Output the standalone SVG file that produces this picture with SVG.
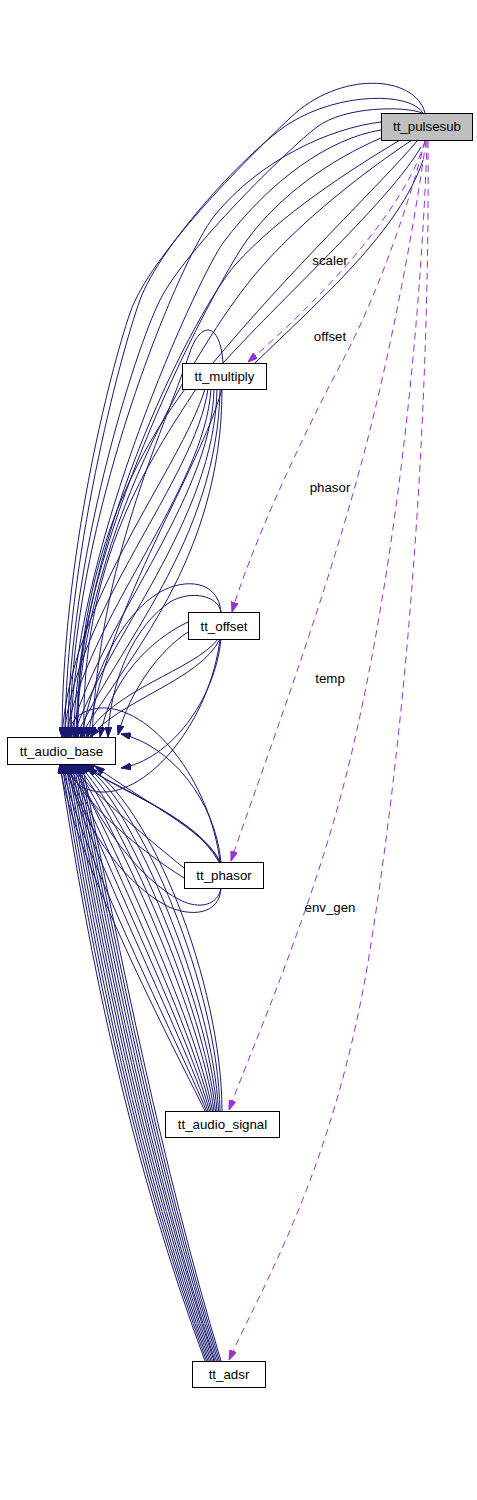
<svg xmlns="http://www.w3.org/2000/svg" width="477" height="1500" viewBox="0 0 477 1500">
<defs>
<marker id="ab" viewBox="0 0 10 7" refX="10" refY="3.5" markerWidth="10" markerHeight="7" markerUnits="userSpaceOnUse" orient="auto"><path d="M0,0L10,3.5L0,7z" fill="#191970" stroke="#191970" stroke-width="1"/></marker>
<marker id="ap" viewBox="0 0 10 7" refX="10" refY="3.5" markerWidth="10" markerHeight="7" markerUnits="userSpaceOnUse" orient="auto"><path d="M0,0L10,3.5L0,7z" fill="#9a32cd" stroke="#9a32cd" stroke-width="1"/></marker>
</defs>
<style>
text{font-family:"Liberation Sans",Arial,Helvetica,sans-serif;font-size:13.3px;fill:#000;text-anchor:middle}
.n rect{fill:#fff;stroke:#000;stroke-width:1}
.n.root rect{fill:#bfbfbf}
.b path{fill:none;stroke:#191970;stroke-width:1;marker-end:url(#ab)}
.b path.nm{marker-end:none}
.p path{fill:none;stroke:#9a32cd;stroke-width:1;stroke-dasharray:7,5;marker-end:url(#ap)}
</style>
<rect width="477" height="1500" fill="#fff"/>
<g id="connectors">
<g class="b">
<path d="M425,113 C415,75 340,70 290,118 C245,161 150,255 130,313 C110,371 62,560 62,737"/>
<path d="M423,113 C410,92 340,92 290,123 C250,148 160,245 140,300 C120,355 66,560 65,737"/>
<path d="M422,113 C405,106 345,106 317,127 C289,148 185,250 160,300 C135,350 68,560 68,737"/>
<path d="M381,122 C330,128 260,160 215,215 C180,258 70,520 70,737"/>
<path d="M381,130 C330,138 270,180 223,243 C200,274 72,550 71,737"/>
<path d="M381,138 C330,160 280,195 247,240 C222,274 74,540 74,737"/>
<path d="M400,140 C350,170 280,215 235,265 C200,305 78,530 76,737"/>
<path d="M412,140 C370,168 300,220 253,277 C215,323 80,520 77,737"/>
<path class="nm" d="M418,140 C380,185 290,270 213,363"/>
<path class="nm" d="M421,147 C390,200 290,290 223,363"/>
<path class="nm" d="M423,160 C400,230 320,300 255,363"/>
<path d="M223,363 C220,320 200,322 190,352 C160,440 100,560 92,737"/>
<path d="M205,389 C180,470 70,600 62,737"/>
<path d="M208,389 C195,480 75,610 64,737"/>
<path d="M211,389 C205,490 85,620 66,737"/>
<path d="M214,389 C212,500 95,630 70,737"/>
<path d="M217,389 C215,520 105,640 73,737"/>
<path d="M220,389 C218,540 115,650 76,737"/>
<path d="M222,389 C222,560 125,660 80,737"/>
<path d="M222,389 C200,470 110,600 88,737"/>
<path d="M196,389 C150,460 80,560 84,737"/>
<path d="M185,389 C140,450 75,560 78,737"/>
<path d="M221,612 C218,580 185,578 160,592 C120,615 90,680 82,737"/>
<path d="M221,612 C218,595 190,590 170,602 C135,625 110,680 108,737"/>
<path d="M188,622 C150,640 110,680 100,737"/>
<path d="M188,632 C160,650 130,690 118,735"/>
<path d="M220,639 C200,680 120,700 90,737"/>
<path d="M218,639 C195,670 110,690 86,737"/>
<path d="M221,639 C215,700 170,760 121,768"/>
<path d="M220,639 C210,720 150,795 100,792 C80,790 70,780 68,764"/>
<path d="M220,862 C200,820 120,790 80,764"/>
<path d="M220,862 C205,830 140,800 95,766"/>
<path d="M221,862 C215,800 170,745 121,734"/>
<path d="M184,868 C150,840 100,800 70,764"/>
<path d="M184,878 C140,850 90,810 65,764"/>
<path d="M221,888 C220,915 190,918 165,905 C120,880 80,820 66,764"/>
<path d="M221,888 C218,905 200,910 180,900 C140,880 95,820 75,764"/>
<path d="M220,862 C210,780 150,705 100,708 C80,710 70,720 68,737"/>
<path d="M219,862 C190,810 110,790 88,766"/>
<path d="M205,1111 C175,1050 70,850 60,764"/>
<path d="M206.5,1111 C179,1044 77,845 62,764"/>
<path d="M208,1111 C184,1038 85,841 65,764"/>
<path d="M209.5,1111 C188,1032 92,836 67,764"/>
<path d="M211,1111 C192,1026 99,832 69,764"/>
<path d="M212.5,1111 C196,1020 106,827 71,764"/>
<path d="M214,1111 C201,1014 114,823 74,764"/>
<path d="M215.5,1111 C205,1009 121,818 76,764"/>
<path d="M217,1111 C209,1003 128,814 78,764"/>
<path d="M218.5,1111 C213,997 135,809 81,764"/>
<path d="M220,1111 C218,991 143,805 83,764"/>
<path d="M222,1111 C222,985 150,800 85,764"/>
<path d="M205,1361 C131,1161 90,964 60,764"/>
<path d="M206.5,1361 C134,1161 93,964 62,764"/>
<path d="M208,1361 C136.5,1161 96,964 64,764"/>
<path d="M209.5,1361 C139,1161 99,964 66,764"/>
<path d="M211,1361 C142,1161 102,964 68,764"/>
<path d="M212.5,1361 C144.5,1161 104.5,964 70,764"/>
<path d="M214,1361 C147.5,1161 107.5,964 72,764"/>
<path d="M215,1361 C150,1161 110,964 74,764"/>
<path d="M216.5,1361 C153,1161 113,964 76,764"/>
<path d="M218,1361 C155.5,1161 116,964 78,764"/>
<path d="M219.5,1361 C158,1161 119,964 80,764"/>
<path d="M221,1361 C161,1161 122,964 82,764"/>
</g>
<g class="p">
<path d="M425,141 C405,210 320,300 248,362"/>
<path d="M425,141 C410,200 380,290 343,360 C300,440 250,550 232,612"/>
<path d="M426,141 C415,220 395,330 370,430 C330,590 265,760 231,861"/>
<path d="M427,141 C422,300 400,550 350,760 C315,905 255,1040 229,1110"/>
<path d="M428,141 C430,400 410,700 370,950 C335,1170 260,1290 229,1360"/>
</g>
<g id="edge-labels">
<text x="330" y="265">scaler</text>
<text x="330" y="341">offset</text>
<text x="330" y="492">phasor</text>
<text x="330" y="683">temp</text>
<text x="330" y="912">env_gen</text>
</g>
</g>
<g id="tt_pulsesub" class="n root"><rect x="381.5" y="113.5" width="91" height="27"/><text x="427" y="131">tt_pulsesub</text></g>
<g id="tt_multiply" class="n"><rect x="182.5" y="363.5" width="84" height="26"/><text x="224.5" y="381">tt_multiply</text></g>
<g id="tt_offset" class="n"><rect x="188.5" y="612.5" width="71" height="27"/><text x="224" y="631">tt_offset</text></g>
<g id="tt_audio_base" class="n"><rect x="7.5" y="737.5" width="108" height="27"/><text x="61.5" y="756">tt_audio_base</text></g>
<g id="tt_phasor" class="n"><rect x="184.5" y="862.5" width="79" height="26"/><text x="224" y="880">tt_phasor</text></g>
<g id="tt_audio_signal" class="n"><rect x="165.5" y="1111.5" width="114" height="26"/><text x="222.5" y="1129">tt_audio_signal</text></g>
<g id="tt_adsr" class="n"><rect x="192.5" y="1361.5" width="73" height="26"/><text x="229" y="1379">tt_adsr</text></g>
</svg>
